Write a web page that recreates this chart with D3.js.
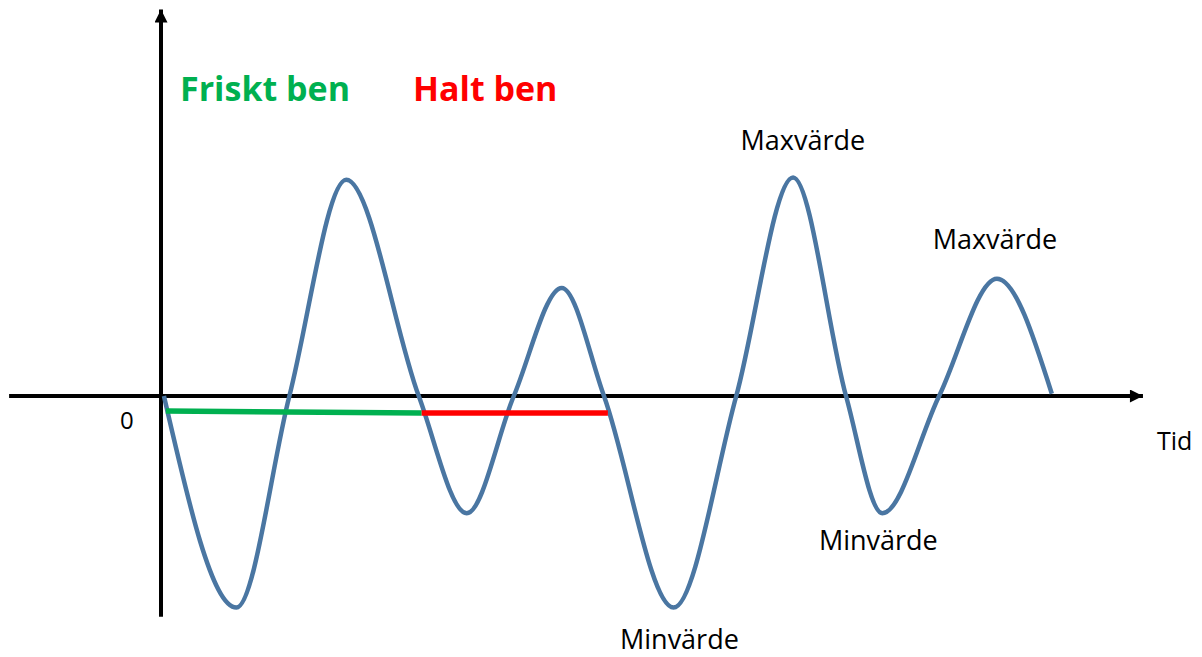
<!DOCTYPE html>
<html>
<head>
<meta charset="utf-8">
<script src="https://cdn.jsdelivr.net/npm/d3@7"></script>
<style>
  html, body { margin: 0; padding: 0; background: #fff; }
  svg text { font-family: "Open Sans", "DejaVu Sans", sans-serif; }
</style>
</head>
<body>
<div id="chart"></div>
<script>
"use strict";

// --- DATA (time in arbitrary units, amplitude -1..1) ---
const signalT = [0.3, 7.7, 13.1, 18.9, 26.3, 31.2, 36.0, 40.9, 45.2, 52.3, 58.7, 64.5, 69.9, 73.6, 79.4, 85.3, 90.9];
const signalV = [0.0, -0.92, 0.0, 0.94, 0.0, -0.51, 0.0, 0.47, 0.0, -0.92, 0.0, 0.95, 0.0, -0.51, 0.0, 0.51, 0.01];

const healthyT = [0.5, 26.6];
const healthyV = [-0.065, -0.074];
const lameT = [26.6, 45.6];
const lameV = [-0.074, -0.074];

const legendLabels = ["Friskt ben", "Halt ben"];
const legendColors = ["#00B050", "#FF0000"];

// label anchors, in data units (centre of text, baseline)
const peakText = ["Maxvärde", "Maxvärde", "Minvärde", "Minvärde"];
const peakT = [65.5, 85.1, 73.2, 52.9];
const peakV = [1.07, 0.64, -0.67, -1.10];

const axisX = [-15.5, 100.2];
const axisY = [-0.96, 1.68];

// --- LAYOUT ---
const W = 1202, H = 657;
const x = d3.scaleLinear().domain([0, 100]).range([161, 1141]);
const y = d3.scaleLinear().domain([-1, 1]).range([626, 166]);

const svg = d3.select("#chart").append("svg").attr("width", W).attr("height", H);

// arrow heads
svg.append("defs").append("marker")
    .attr("id", "arrow").attr("viewBox", "0 0 10 10")
    .attr("refX", 10).attr("refY", 5)
    .attr("markerWidth", 15).attr("markerHeight", 13)
    .attr("markerUnits", "userSpaceOnUse")
    .attr("orient", "auto")
    .append("path").attr("d", "M0,0 L10,5 L0,10 Z").attr("fill", "#000");

// --- AXES ---
svg.append("line")
    .attr("x1", x(axisX[0])).attr("x2", x(axisX[1]))
    .attr("y1", y(0)).attr("y2", y(0))
    .attr("stroke", "#000").attr("stroke-width", 4)
    .attr("marker-end", "url(#arrow)");

svg.append("line")
    .attr("x1", x(0)).attr("x2", x(0))
    .attr("y1", y(axisY[0])).attr("y2", y(axisY[1]))
    .attr("stroke", "#000").attr("stroke-width", 4)
    .attr("marker-end", "url(#arrow)");

svg.append("text").attr("x", x(0) - 41).attr("y", y(0) + 33)
    .style("font-size", "24px").attr("fill", "#000").text("0");

svg.append("text").attr("x", 1157).attr("y", 450)
    .style("font-size", "25px").attr("fill", "#000").text("Tid");

// --- SIGNAL ---
const line = d3.line().x(d => x(d[0])).y(d => y(d[1])).curve(d3.curveMonotoneX);

svg.append("path")
    .datum(d3.zip(signalT, signalV))
    .attr("d", line)
    .attr("fill", "none")
    .attr("stroke", "#4A76A2")
    .attr("stroke-width", 4.5);

// --- STEP SEGMENTS ---
const seg = d3.line().x(d => x(d[0])).y(d => y(d[1]));
[[healthyT, healthyV], [lameT, lameV]].forEach(([ts, vs], i) => {
    svg.append("path")
        .datum(d3.zip(ts, vs))
        .attr("d", seg)
        .attr("fill", "none")
        .attr("stroke", legendColors[i])
        .attr("stroke-width", 5.5);
});

// --- LEGEND TEXT ---
const legendX = [180, 413];
legendLabels.forEach((lbl, i) => {
    svg.append("text")
        .attr("x", legendX[i]).attr("y", 101)
        .attr("fill", legendColors[i])
        .style("font-size", "34px").style("font-weight", "bold")
        .text(lbl);
});

// --- PEAK LABELS ---
svg.selectAll(".peak")
    .data(d3.zip(peakText, peakT, peakV))
    .enter().append("text")
    .attr("class", "peak")
    .attr("x", d => x(d[1]))
    .attr("y", d => y(d[2]))
    .attr("text-anchor", "middle")
    .attr("fill", "#000")
    .style("font-size", "27px")
    .text(d => d[0]);
</script>
</body>
</html>
